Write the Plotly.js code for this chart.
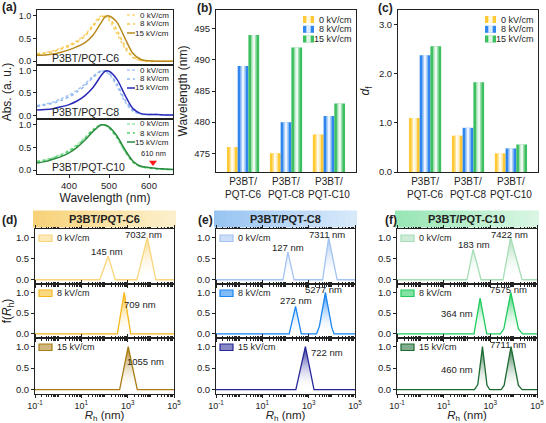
<!DOCTYPE html>
<html><head><meta charset="utf-8">
<script src="https://cdn.plot.ly/plotly-3.0.1.min.js"></script>
<style>html,body{margin:0;padding:0;background:#fff}</style>
</head><body><div id="chart" style="width:546px;height:423px"></div>
<script>
// ---------- DATA ----------
const fields = ['0 kV/cm', '8 kV/cm', '15 kV/cm'];
const samples = ['P3BT/PQT-C6', 'P3BT/PQT-C8', 'P3BT/PQT-C10'];
const sampleTicks = ['P3BT/<br>PQT-C6', 'P3BT/<br>PQT-C8', 'P3BT/<br>PQT-C10'];

// (a) absorption spectra
const wavelength = [320,340,360,380,400,420,440,460,480,490,500,520,540,560,580,600,620,640,660];
const absC6_0  = [0.17,0.19,0.23,0.29,0.36,0.45,0.58,0.80,0.99,0.97,0.90,0.60,0.28,0.08,0.02,0.00,0.00,0.00,0.00];
const absC6_8  = [0.16,0.18,0.21,0.27,0.33,0.42,0.55,0.76,0.96,0.99,0.95,0.68,0.33,0.10,0.02,0.00,0.00,0.00,0.00];
const absC6_15 = [0.13,0.14,0.16,0.20,0.25,0.32,0.41,0.57,0.84,0.97,0.99,0.85,0.50,0.17,0.04,0.01,0.00,0.00,0.00];
const absC8_0  = [0.22,0.25,0.30,0.37,0.45,0.56,0.70,0.87,0.99,0.98,0.92,0.65,0.30,0.09,0.03,0.02,0.02,0.01,0.01];
const absC8_8  = [0.20,0.23,0.27,0.33,0.41,0.52,0.66,0.84,0.98,0.99,0.94,0.70,0.34,0.11,0.03,0.02,0.02,0.01,0.01];
const absC8_15 = [0.12,0.13,0.15,0.19,0.24,0.32,0.44,0.62,0.88,0.98,0.98,0.80,0.45,0.15,0.04,0.02,0.02,0.01,0.01];
const absC10_0  = [0.20,0.23,0.28,0.35,0.44,0.56,0.72,0.90,1.00,0.98,0.92,0.70,0.40,0.17,0.07,0.05,0.03,0.02,0.02];
const absC10_8  = [0.19,0.22,0.27,0.33,0.42,0.54,0.70,0.88,0.99,0.99,0.93,0.72,0.42,0.18,0.08,0.05,0.03,0.02,0.02];
const absC10_15 = [0.16,0.19,0.24,0.30,0.38,0.50,0.66,0.85,0.99,0.99,0.95,0.75,0.45,0.20,0.09,0.06,0.04,0.03,0.02];
const markWl = [610];
const markAbs = [0.17];

// (b) peak wavelength (nm)
const peakWl_0  = [476, 475, 478];
const peakWl_8  = [489, 480, 481];
const peakWl_15 = [494, 492, 483];
// (c) d_f
const df_0  = [1.10, 0.74, 0.38];
const df_8  = [2.38, 0.90, 0.48];
const df_15 = [2.56, 1.83, 0.56];

// (d)-(f) size distributions
const rhC6_0  = [0.1, 62, 145, 290, 2500, 7032, 16500, 100000];
const fC6_0   = [0, 0, 0.56, 0, 0, 1, 0, 0];
const rhC6_8  = [0.1, 360, 709, 1350, 100000];
const fC6_8   = [0, 0, 1, 0, 0];
const rhC6_15 = [0.1, 450, 1055, 2600, 100000];
const fC6_15  = [0, 0, 1, 0, 0];
const rhC8_0  = [0.1, 78, 127, 235, 4000, 7311, 17000, 100000];
const fC8_0   = [0, 0, 0.66, 0, 0, 1, 0, 0];
const rhC8_8  = [0.1, 145, 272, 480, 2200, 2900, 5277, 10000, 12500, 100000];
const fC8_8   = [0, 0, 0.66, 0, 0, 0.18, 1, 0.15, 0, 0];
const rhC8_15 = [0.1, 280, 722, 1700, 100000];
const fC8_15  = [0, 0, 1, 0, 0];
const rhC10_0  = [0.1, 100, 183, 400, 3500, 7422, 23000, 100000];
const fC10_0   = [0, 0, 0.72, 0, 0, 1, 0, 0];
const rhC10_8  = [0.1, 200, 364, 700, 2700, 3800, 7575, 16000, 24000, 100000];
const fC10_8   = [0, 0, 0.86, 0, 0, 0.12, 1, 0.12, 0, 0];
const rhC10_15 = [0.1, 210, 290, 460, 720, 950, 2900, 3900, 7711, 16000, 23000, 100000];
const fC10_15  = [0, 0, 0.12, 1, 0.1, 0, 0, 0.1, 1, 0.1, 0, 0];
const peaksC6  = [[145, 7032], [709], [1055]];
const peaksC8  = [[127, 7311], [272, 5277], [722]];
const peaksC10 = [[183, 7422], [364, 7575], [460, 7711]];

// ---------- STYLE ----------
const W = 546, H = 423;
const X = p => p / W, Y = p => 1 - p / H;
const ink = '#222';
const FONT = 'Liberation Sans, Arial, sans-serif';
function ax(extra) {
  return Object.assign({showline:true, mirror:true, linecolor:ink, linewidth:1, zeroline:false, showgrid:false,
    ticks:'outside', ticklen:3, tickwidth:1, tickcolor:ink, tickfont:{size:9.5, color:ink}, automargin:false}, extra);
}
const layout = {
  width:W, height:H, margin:{l:0, r:0, t:0, b:0}, paper_bgcolor:'#fff', plot_bgcolor:'rgba(0,0,0,0)',
  font:{family:FONT, size:10, color:ink}, showlegend:false, barmode:'overlay', shapes:[], annotations:[]
};
const traces = [];
function ann(text, xp, yp, opts) {
  layout.annotations.push(Object.assign({text, x:X(xp), y:Y(yp), xref:'paper', yref:'paper', showarrow:false,
    font:{size:9, color:ink}, xanchor:'center', yanchor:'middle'}, opts || {}));
}
const axn = n => (n === 1 ? '' : String(n));

// ---------- (a) ----------
const aTops = [10, 65, 119], aBots = [65, 119, 174];
const aSets = [
  {ys:[absC6_0, absC6_8, absC6_15], cols:['#F9D67E','#F7C744','#B8891C'], name:samples[0]},
  {ys:[absC8_0, absC8_8, absC8_15], cols:['#A8C6F4','#8DB6F2','#2B2BB8'], name:samples[1]},
  {ys:[absC10_0, absC10_8, absC10_15], cols:['#9FE3AC','#4FD26A','#2A8A40'], name:samples[2]}
];
const aDash = ['3px,2px', 'dot', 'solid'];
aSets.forEach((s, k) => {
  const n = k + 1;
  layout['xaxis' + axn(n)] = ax({domain:[X(37), X(173)], range:[320, 660], tickvals:[400, 500, 600],
    showticklabels:k === 2, ticks:k === 2 ? 'outside' : '', anchor:'y' + axn(n),
    title: k === 2 ? {text:'Wavelength (nm)', font:{size:12, color:ink}, standoff:2} : undefined});
  layout['yaxis' + axn(n)] = ax({domain:[Y(aBots[k]), Y(aTops[k])], range:[-0.08, 1.12], tickvals:[0, 0.5, 1],
    tickformat:'.1f', anchor:'x' + axn(n), tickfont:{size:9, color:ink},
    title: k === 1 ? {text:'Abs. (a. u.)', font:{size:12, color:ink}, standoff:4} : undefined});
  s.ys.forEach((y, i) => {
    traces.push({type:'scatter', mode:'lines', x:wavelength, y:y, xaxis:'x' + axn(n), yaxis:'y' + axn(n),
      line:{color:s.cols[i], width:1.5, dash:aDash[i], shape:'spline', smoothing:0.8}, name:fields[i]});
  });
  // legend
  const T = aTops[k];
  [5, 14, 23].forEach((dy, i) => {
    layout.shapes.push({type:'line', xref:'paper', yref:'paper', x0:X(127), x1:X(135), y0:Y(T + dy), y1:Y(T + dy),
      line:{color:s.cols[i], width:1.5, dash:aDash[i]}});
    ann(fields[i], 171, T + dy, {xanchor:'right', font:{size:8, color:ink}});
  });
  ann(s.name, 50, aBots[k] - 7, {xanchor:'left', font:{size:10.5, color:ink}});
});
traces.push({type:'scatter', mode:'markers', x:markWl, y:markAbs, xaxis:'x3', yaxis:'y3',
  marker:{symbol:'triangle-down', size:7, color:'#FF1A1A'}});
layout.annotations.push({text:markWl[0] + ' nm', x:markWl[0], y:0.37, xref:'x3', yref:'y3', showarrow:false,
  font:{size:7.5, color:ink}, xanchor:'center', yanchor:'middle'});

// ---------- (b), (c) bars ----------
const barCols = ['#FFC933', '#2F86EE', '#3CBF5E'];
const bw = 0.25, offs = [-0.25, 0, 0.25];
function barPanel(n, vals, L, R, yax) {
  layout['xaxis' + n] = ax({domain:[X(L), X(R)], type:'category', range:[-0.63, 2.63], ticks:'', anchor:'y' + n,
    tickvals:samples, ticktext:sampleTicks, tickfont:{size:10, color:ink}});
  layout['yaxis' + n] = ax(Object.assign({domain:[Y(172), Y(10)], anchor:'x' + n}, yax));
  vals.forEach((v, i) => {
    const base = {type:'bar', x:samples, y:v, xaxis:'x' + n, yaxis:'y' + n, name:fields[i]};
    traces.push(Object.assign({}, base, {offset:offs[i] - bw / 2, width:bw, marker:{color:barCols[i], line:{width:0}}}));
    traces.push(Object.assign({}, base, {offset:offs[i] - bw * 0.26, width:bw * 0.52, marker:{color:'rgba(255,255,255,0.5)', line:{width:0}}}));
    traces.push(Object.assign({}, base, {offset:offs[i] - bw * 0.12, width:bw * 0.24, marker:{color:'rgba(255,255,255,0.8)', line:{width:0}}}));
  });
  [19.5, 29.3, 39].forEach((yy, i) => {
    const x0 = R - 53;
    layout.shapes.push({type:'rect', xref:'paper', yref:'paper', x0:X(x0), x1:X(x0 + 11), y0:Y(yy + 3.5), y1:Y(yy - 3.5),
      fillcolor:barCols[i], line:{width:0}});
    layout.shapes.push({type:'rect', xref:'paper', yref:'paper', x0:X(x0 + 3.3), x1:X(x0 + 7.7), y0:Y(yy + 3.5), y1:Y(yy - 3.5),
      fillcolor:'rgba(255,255,255,0.85)', line:{width:0}});
    ann(fields[i], R - 2, yy, {xanchor:'right', font:{size:9, color:ink}});
  });
}
barPanel(4, [peakWl_0, peakWl_8, peakWl_15], 216, 356,
  {range:[472, 498], tick0:475, dtick:5, title:{text:'Wavelength (nm)', font:{size:12, color:ink}, standoff:4}});
barPanel(5, [df_0, df_8, df_15], 398, 538,
  {range:[0, 3.3], tick0:0, dtick:1, tickformat:'.1f', title:{text:'<i>d</i><sub>f</sub>', font:{size:12, color:ink}, standoff:6}});

// ---------- (d)-(f) ----------
const dTops = [229, 284, 338], dBots = [284, 338, 394];
const minorVals = [];
for (let d = -1; d < 5; d++) for (let m = 1; m < 10; m++) minorVals.push(m * Math.pow(10, d));
const dlsPanels = [
  {L:35, R:174, hdr:['#F8D27A', '#FCF0CC'], rh:[rhC6_0, rhC6_8, rhC6_15], f:[fC6_0, fC6_8, fC6_15], peaks:peaksC6,
   cols:['#F9D67E', '#F6B91E', '#A97C14'], name:samples[0],
   lab:[[[-0.07, 0.68], [-0.15, 1.06]], [[0.7, 0.7]], [[0.75, 0.66]]]},
  {L:216, R:355, hdr:['#98C4F2', '#D8E9FA'], rh:[rhC8_0, rhC8_8, rhC8_15], f:[fC8_0, fC8_8, fC8_15], peaks:peaksC8,
   cols:['#A3C3F2', '#1C86F2', '#27279A'], name:samples[1],
   lab:[[[0, 0.76], [-0.07, 1.06]], [[0, 0.8], [-0.09, 1.07]], [[0.92, 0.87]]]},
  {L:397, R:537, hdr:['#98E6B5', '#D8F6E3'], rh:[rhC10_0, rhC10_8, rhC10_15], f:[fC10_0, fC10_8, fC10_15], peaks:peaksC10,
   cols:['#A6DDB6', '#1FCB5C', '#1D6A33'], name:samples[2],
   lab:[[[0.04, 0.84], [-0.07, 1.06]], [[-1.0, 0.5], [-0.08, 1.07]], [[-1.1, 0.46], [-0.12, 1.06]]]}
];
function mix(a, b, t) {
  const pa = [1, 3, 5].map(i => parseInt(a.substr(i, 2), 16)), pb = [1, 3, 5].map(i => parseInt(b.substr(i, 2), 16));
  return 'rgb(' + pa.map((v, i) => Math.round(v + (pb[i] - v) * t)).join(',') + ')';
}
dlsPanels.forEach((p, c) => {
  // header bar
  const hx0 = p.L - 2, hx1 = p.R + 1.5, strips = 24;
  for (let s = 0; s < strips; s++) {
    layout.shapes.push({type:'rect', xref:'paper', yref:'paper', layer:'below',
      x0:X(hx0 + (hx1 - hx0) * s / strips), x1:X(hx0 + (hx1 - hx0) * (s + 1) / strips + 0.5), y0:Y(227.5), y1:Y(210.5),
      fillcolor:mix(p.hdr[0], p.hdr[1], s / (strips - 1)), line:{width:0}});
  }
  ann('<b>' + p.name + '</b>', (hx0 + hx1) / 2, 219, {font:{size:11, color:ink}});
  for (let k = 0; k < 3; k++) {
    const n = 6 + c * 3 + k, a = axn(n);
    layout['xaxis' + a] = ax({domain:[X(p.L), X(p.R)], type:'log', range:[-1, 5], anchor:'y' + a,
      tickvals:[0.1, 10, 1000, 100000], ticktext:['10<sup>-1</sup>', '10<sup>1</sup>', '10<sup>3</sup>', '10<sup>5</sup>'],
      showticklabels:k === 2, ticks:'outside', ticklen:3, mirror:'ticks', tickfont:{size:9, color:ink},
      minor:{tickvals:minorVals, ticks:'outside', ticklen:1.5, tickcolor:ink},
      title: k === 2 ? {text:'<i>R</i><sub>h</sub> (nm)', font:{size:11.5, color:ink}, standoff:5} : undefined});
    layout['yaxis' + a] = ax({domain:[Y(dBots[k]), Y(dTops[k])], range:[-0.1, 1.2], tick0:0, dtick:0.5, tickformat:'.1f',
      anchor:'x' + a,
      title: (k === 1 && c === 0) ? {text:'f(<i>R</i><sub>h</sub>)', font:{size:12, color:ink}, standoff:4} : undefined});
    traces.push({type:'scatter', mode:'lines', x:p.rh[k], y:p.f[k], xaxis:'x' + a, yaxis:'y' + a, name:fields[k],
      line:{color:p.cols[k], width:1.3}, fill:'tozeroy',
      fillgradient:{type:'vertical', colorscale:[[0, 'rgba(255,255,255,0)'], [1, p.cols[k]]]}});
    // peak labels
    p.peaks[k].forEach((v, j) => {
      const o = p.lab[k][j];
      layout.annotations.push({text:v + ' nm', x:Math.log10(v) + o[0], y:o[1], xref:'x' + a, yref:'y' + a,
        showarrow:false, font:{size:9.5, color:ink}, xanchor:'center', yanchor:'middle'});
    });
    // legend
    const T = dTops[k];
    layout.shapes.push({type:'rect', xref:'paper', yref:'paper', x0:X(p.L + 4), x1:X(p.L + 17), y0:Y(T + 12.5), y1:Y(T + 6),
      fillcolor:mix(p.cols[k], '#FFFFFF', 0.45), line:{color:p.cols[k], width:1.2}});
    ann(fields[k], p.L + 19.5, T + 9.3, {xanchor:'left', font:{size:9, color:ink}});
  }
});

// panel letters
ann('<b>(a)</b>', 9, 7, {font:{size:12, color:ink}});
ann('<b>(b)</b>', 204, 8, {font:{size:12, color:ink}});
ann('<b>(c)</b>', 385, 8, {font:{size:12, color:ink}});
ann('<b>(d)</b>', 9, 220, {font:{size:12, color:ink}});
ann('<b>(e)</b>', 205, 220, {font:{size:12, color:ink}});
ann('<b>(f)</b>', 391, 220, {font:{size:12, color:ink}});

Plotly.newPlot('chart', traces, layout, {staticPlot:true, displayModeBar:false});
</script></body></html>
